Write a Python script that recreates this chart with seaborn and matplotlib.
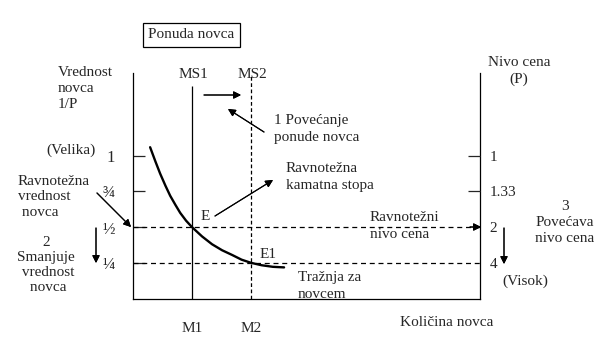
import matplotlib
matplotlib.use("Agg")
import matplotlib.pyplot as plt
import seaborn as sns
from matplotlib.patches import Rectangle

sns.set_style("white")
plt.rcParams['font.family'] = ['Liberation Serif', 'DejaVu Serif']
plt.rcParams['font.size'] = 11

# kolicina novca (x) i vrednost novca 1/P (y)
m_levels = [1, 2]
m_labels = ["M1", "M2"]
value_levels = [1, 0.75, 0.5, 0.25]
value_labels = ["1", "\u00be", "\u00bd", "\u00bc"]
price_labels = ["1", "1.33", "2", "4"]

# traznja za novcem
demand_q = [0.29, 0.38, 0.46, 0.55, 0.63, 0.72, 0.80, 0.90, 1.0, 1.17, 1.34, 1.51, 1.68, 1.84, 2.0, 2.18, 2.37, 2.56]
demand_v = [1.06, 0.96, 0.875, 0.79, 0.72, 0.655, 0.60, 0.545, 0.5, 0.435, 0.38, 0.338, 0.305, 0.272, 0.25, 0.233, 0.222, 0.218]

W, H = 602, 361
fig = plt.figure(figsize=(W / 100, H / 100), dpi=100)
ax = fig.add_axes([133 / W, 1 - 298.5 / H, 347 / W, 225.5 / H])
xmax, ymax = 5.88, 1.58
ax.set_xlim(0, xmax)
ax.set_ylim(0, ymax)


def fp(x, y):
    # pixel (od gornjeg levog ugla) -> figure fraction
    return (x / W, 1 - y / H)


def txt(x, y, s, **kw):
    kw.setdefault("ha", "left")
    kw.setdefault("va", "center")
    kw.setdefault("linespacing", 1.3)
    fig.text(*fp(x, y), s, **kw)


def arrow(x0, y0, x1, y1):
    fig.add_artist(plt.annotate("", xy=fp(x1, y1), xytext=fp(x0, y0),
                                xycoords="figure fraction", textcoords="figure fraction",
                                arrowprops=dict(arrowstyle="-|>", color="black", lw=0.8,
                                                mutation_scale=11, shrinkA=0, shrinkB=0)))


# spines
ax.spines["top"].set_visible(False)
for s in ["left", "right", "bottom"]:
    ax.spines[s].set_linewidth(0.9)
    ax.spines[s].set_color("black")

# krive
sns.lineplot(x=demand_q, y=demand_v, ax=ax, color="black", lw=1.7, sort=False)
ax.vlines(m_levels[0], 0, 1.49, color="black", lw=0.9)
ax.vlines(m_levels[1], 0, 1.56, color="black", lw=0.9, linestyles=(0, (3, 2)))
ax.hlines(value_levels[2], 0, xmax, color="black", lw=0.9, linestyles=(0, (4, 3)))
ax.hlines(value_levels[3], 0, xmax, color="black", lw=0.9, linestyles=(0, (4, 3)))

# leva osa
ax.set_yticks(value_levels)
ax.set_yticklabels(value_labels)
ax.tick_params(axis="y", direction="in", length=8.6, width=0.9, pad=13, labelsize=12, left=True)
for tk in ax.yaxis.get_major_ticks()[2:]:
    tk.tick1line.set_visible(False)

# desna osa
ax2 = ax.twinx()
ax2.set_ylim(0, ymax)
ax2.set_yticks(value_levels)
ax2.set_yticklabels(price_labels)
ax2.tick_params(axis="y", direction="in", length=8.6, width=0.9, pad=7, labelsize=11, right=True)
for tk in ax2.yaxis.get_major_ticks()[2:]:
    tk.tick2line.set_visible(False)
for s in ax2.spines.values():
    s.set_visible(False)

# x osa
ax.set_xticks(m_levels)
ax.set_xticklabels(m_labels)
ax.tick_params(axis="x", length=0, pad=17, labelsize=11)

# naslov u okviru
fig.add_artist(Rectangle(fp(143, 47), 97 / W, 24 / H, transform=fig.transFigure,
                         fill=False, edgecolor="black", lw=0.9))
txt(191.5, 35, "Ponuda novca", ha="center")

txt(58, 89, "Vrednost\nnovca\n1/P")
txt(71, 150, "(Velika)", ha="center")
txt(18, 197, "Ravnote\u017ena\nvrednost\n novca", linespacing=1.25)
txt(46, 265, "2\nSmanjuje\n vrednost\n novca", ha="center", multialignment="center", linespacing=1.2)
txt(193, 74, "MS1", ha="center")
txt(252, 74, "MS2", ha="center")
txt(274, 129, "1 Pove\u0107anje\nponude novca", linespacing=1.4)
txt(286, 177, "Ravnote\u017ena\nkamatna stopa", linespacing=1.4)
txt(205, 217, "E", ha="center")
txt(268, 255, "E1", ha="center")
txt(370, 226, "Ravnote\u017eni\nnivo cena", linespacing=1.35)
txt(298, 286, "Tra\u017enja za\nnovcem", linespacing=1.35)
txt(519, 71, "Nivo cena\n(P)", ha="center", multialignment="center")
txt(565, 222, "3\nPove\u0107ava\nnivo cena", ha="center", multialignment="center")
txt(525, 281, "(Visok)", ha="center")
txt(447, 322, "Koli\u010dina novca", ha="center")

# strelice
arrow(204, 95, 241, 95)
arrow(264, 132, 228, 109)
arrow(215, 216, 273, 180)
arrow(97, 193, 131, 227)
arrow(96, 228, 96, 263)
arrow(504, 228, 504, 264)
arrow(470, 227, 481, 227)

fig.savefig("out.png", dpi=100)
